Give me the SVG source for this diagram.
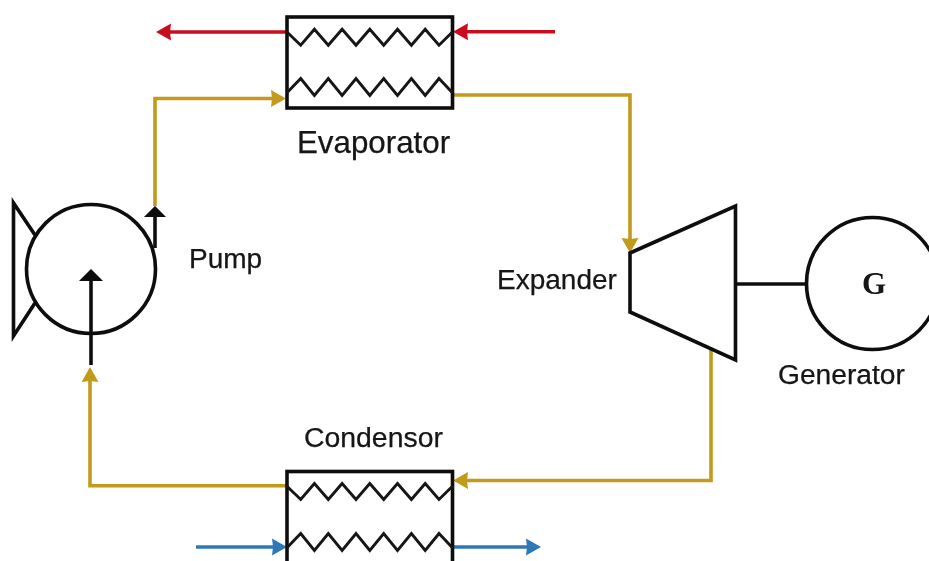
<svg xmlns="http://www.w3.org/2000/svg" width="929" height="561" viewBox="0 0 929 561">
<style>
.bk{fill:none;stroke:#0c0c0c;stroke-width:3.6}
.zz{fill:none;stroke:#161616;stroke-width:2.9}
.ar{fill:none;stroke-width:3.6}
.gold{stroke:#c29a1c}
.red{stroke:#c8101e}
.blue{stroke:#2f78b8}
.t{font-family:"Liberation Sans",Arial,sans-serif;fill:#141414;stroke:#141414;stroke-width:.25}
</style>
<defs>
<filter id="soft" filterUnits="userSpaceOnUse" x="0" y="0" width="929" height="561"><feGaussianBlur stdDeviation="0.45"/></filter>
<marker id="mg" markerUnits="userSpaceOnUse" markerWidth="16" markerHeight="18" refX="1" refY="8.5" orient="auto" overflow="visible"><path d="M0,0 L15,8.5 L0,17 L1,8.5 z" fill="#c29a1c"/></marker>
<marker id="mr" markerUnits="userSpaceOnUse" markerWidth="16" markerHeight="18" refX="1" refY="8.5" orient="auto" overflow="visible"><path d="M0,0 L15,8.5 L0,17 L1,8.5 z" fill="#c8101e"/></marker>
<marker id="mb" markerUnits="userSpaceOnUse" markerWidth="16" markerHeight="18" refX="1" refY="8.5" orient="auto" overflow="visible"><path d="M0,0 L15,8.5 L0,17 L1,8.5 z" fill="#2f78b8"/></marker>
<path id="zigA" d="M0,0 L14,13.5 L27.7,-2.5 L41.6,13.5 L55.4,-2.5 L69.3,13.5 L83.1,-2.5 L97,13.5 L110.8,-2.5 L124.7,13.5 L138.5,-2.5 L152.3,13.5 L166,0"/>
<path id="zigB" d="M0,0 L14,-14.5 L27.7,2.5 L41.6,-14.5 L55.4,2.5 L69.3,-14.5 L83.1,2.5 L97,-14.5 L110.8,2.5 L124.7,-14.5 L138.5,2.5 L152.3,-14.5 L166,0"/>
</defs>
<rect width="929" height="561" fill="#fff"/>
<g filter="url(#soft)">
<g id="connectors">
<path class="ar gold" d="M155,206 V98.5 H272" marker-end="url(#mg)"/>
<path class="ar gold" d="M452,95 H630 V239" marker-end="url(#mg)"/>
<path class="ar gold" d="M711,350 V480.5 H467" marker-end="url(#mg)"/>
<path class="ar gold" d="M287,485.7 H90 V381" marker-end="url(#mg)"/>
<path class="ar red" d="M287,32 H170" marker-end="url(#mr)"/>
<path class="ar red" d="M555,31.7 H467" marker-end="url(#mr)"/>
<path class="ar blue" d="M196,547 H273" marker-end="url(#mb)"/>
<path class="ar blue" d="M453,547 H527" marker-end="url(#mb)"/>
</g>
<g id="evaporator">
<rect class="bk" x="287" y="17" width="165.5" height="91"/>
<use href="#zigA" class="zz" x="286.7" y="31.7"/>
<use href="#zigB" class="zz" x="286.7" y="93"/>
<text class="t" x="297" y="152.5" font-size="31.3">Evaporator</text>
</g>
<g id="condensor">
<rect class="bk" x="287" y="471.5" width="165.5" height="100"/>
<use href="#zigA" class="zz" x="286.7" y="486"/>
<use href="#zigB" class="zz" x="286.7" y="548"/>
<text class="t" x="304" y="447" font-size="28.4">Condensor</text>
</g>
<g id="pump">
<circle class="bk" cx="91" cy="269" r="64.5"/>
<path class="bk" d="M35,235 L13.5,203 V336 L35,303"/>
<path class="bk" d="M91,365 V280"/>
<path d="M79,281 L91,269 L103,281 z" fill="#0c0c0c"/>
<path class="bk" d="M155,248 V216"/>
<path d="M144,217 L155,206 L166,217 z" fill="#0c0c0c"/>
<text class="t" x="189" y="268" font-size="28">Pump</text>
</g>
<g id="expander">
<path class="bk" d="M630,253 L735.5,206 V360 L630,312 z"/>
<text class="t" x="497" y="289" font-size="28">Expander</text>
</g>
<g id="generator">
<path class="bk" d="M736,284 H806"/>
<circle class="bk" cx="872.5" cy="283.5" r="66"/>
<text x="874" y="294" font-size="31" font-weight="700" text-anchor="middle" font-family="'Liberation Serif','Times New Roman',serif" fill="#141414">G</text>
<text class="t" x="778" y="384" font-size="28.2">Generator</text>
</g>
</g>
</svg>
